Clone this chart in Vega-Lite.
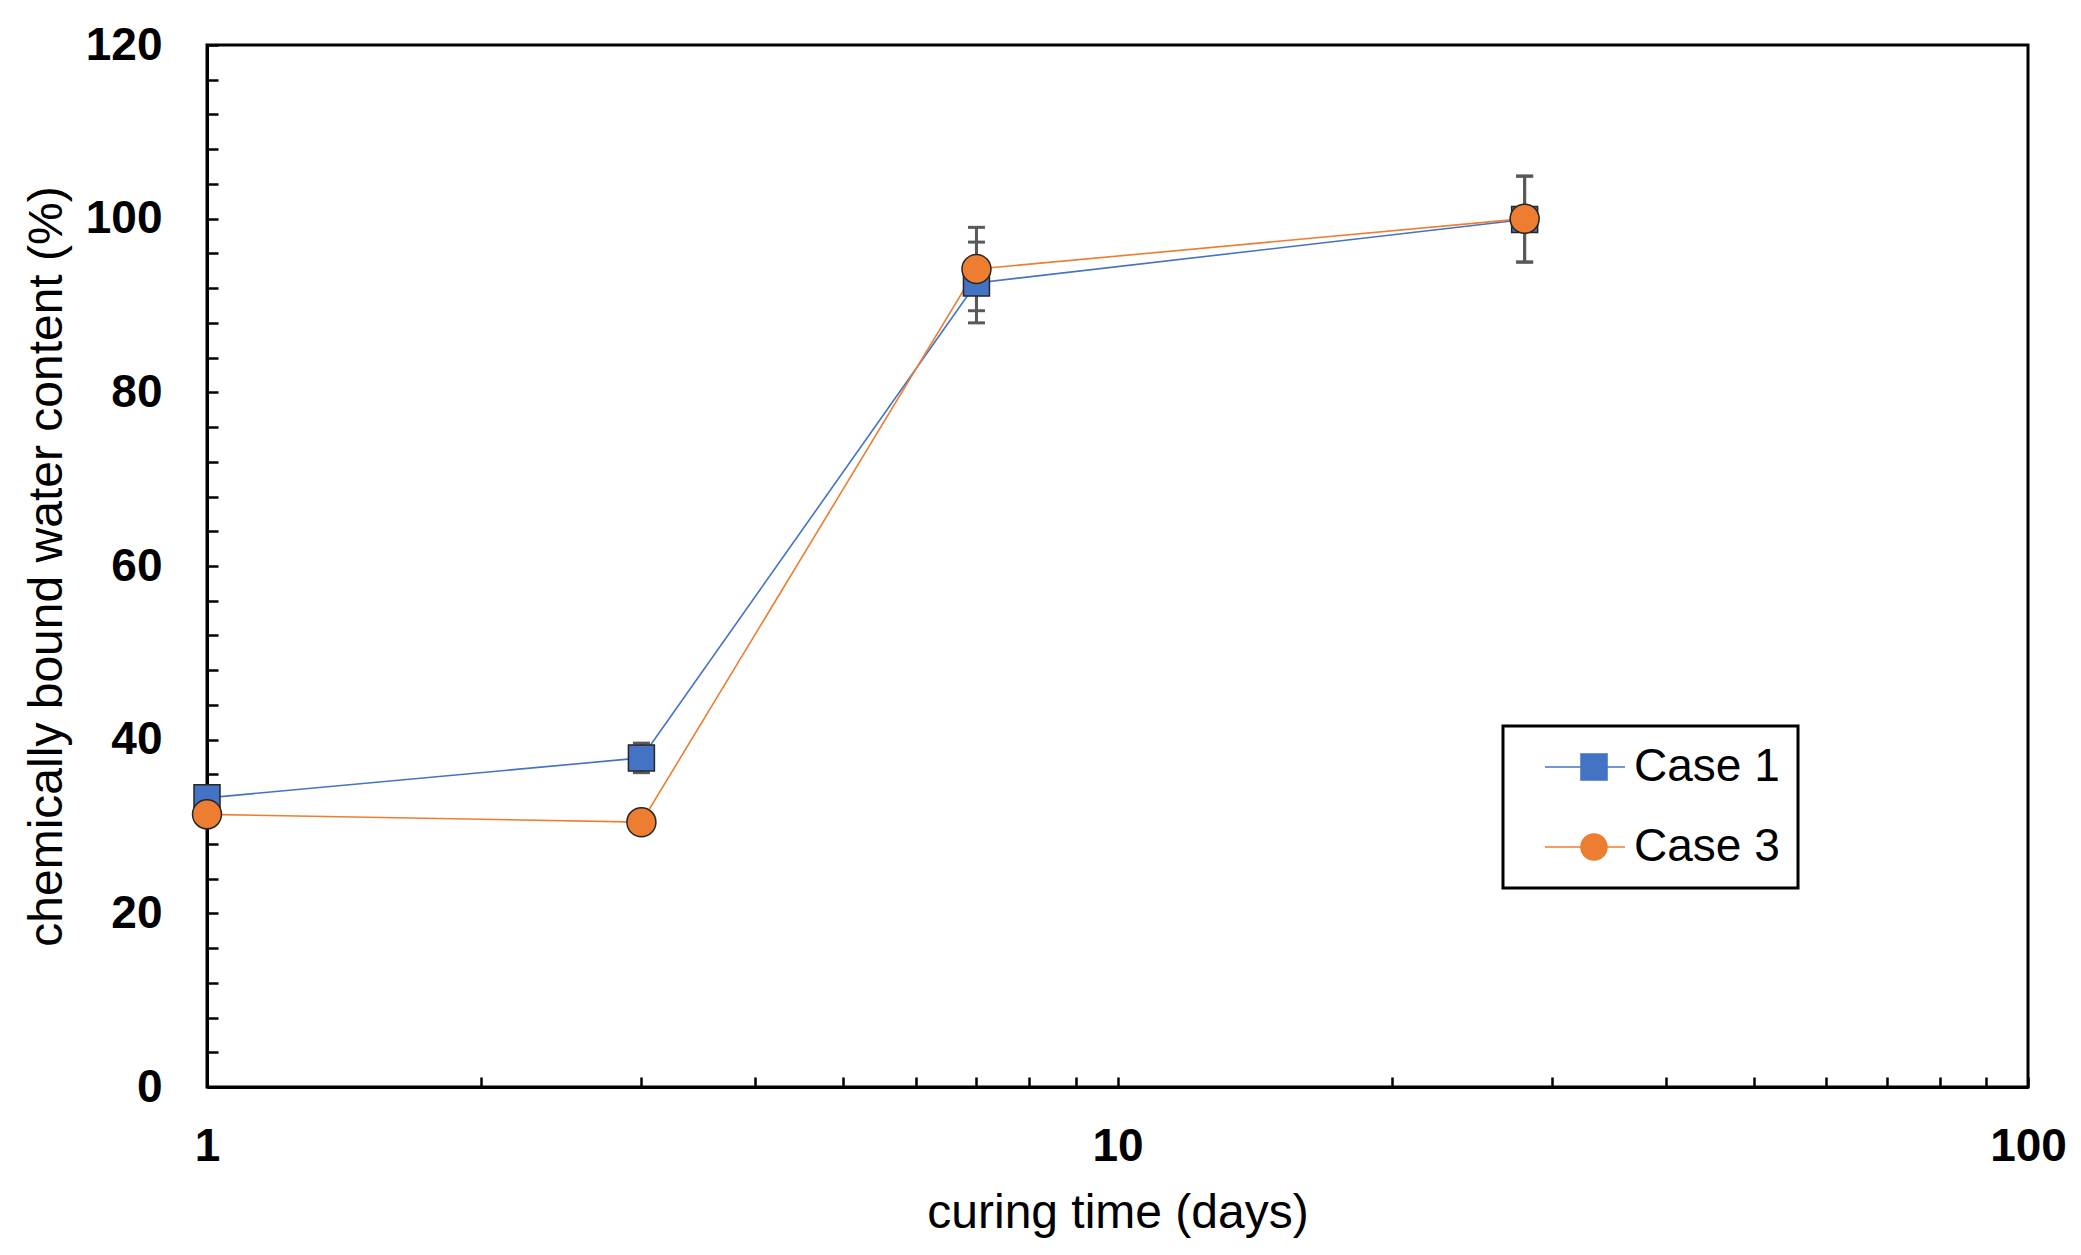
{
  "$schema": "https://vega.github.io/schema/vega-lite/v6.json",
  "width": 1821,
  "height": 1042,
  "autosize": {"type": "none"},
  "padding": {"left": 207, "top": 45, "right": 53, "bottom": 168},
  "background": "white",
  "config": {
    "font": "Liberation Sans",
    "view": {"stroke": "black", "strokeWidth": 3}
  },
  "data": {
    "values": [
      {"series": "Case 1", "days": 1, "value": 33.3, "lo": 32.2, "hi": 34.4},
      {"series": "Case 1", "days": 3, "value": 37.9, "lo": 36.2, "hi": 39.6},
      {"series": "Case 1", "days": 7, "value": 92.6, "lo": 88.0, "hi": 97.3},
      {"series": "Case 1", "days": 28, "value": 99.9, "lo": 95.0, "hi": 104.9},
      {"series": "Case 3", "days": 1, "value": 31.4, "lo": 30.6, "hi": 32.2},
      {"series": "Case 3", "days": 3, "value": 30.5, "lo": 29.3, "hi": 31.7},
      {"series": "Case 3", "days": 7, "value": 94.2, "lo": 89.4, "hi": 99.0},
      {"series": "Case 3", "days": 28, "value": 100.0, "lo": 95.0, "hi": 104.9}
    ]
  },
  "encoding": {
    "x": {
      "field": "days", "type": "quantitative",
      "scale": {"type": "log", "domain": [1, 100]},
      "axis": {
        "title": "curing time (days)",
        "values": [1, 2, 3, 4, 5, 6, 7, 8, 9, 10, 20, 30, 40, 50, 60, 70, 80, 90, 100],
        "tickCount": 200,
        "labelExpr": "indexof([1, 10, 100], datum.value) >= 0 ? format(datum.value, 'd') : ''",
        "grid": false,
        "domainColor": "black", "domainWidth": 3,
        "tickColor": "black", "tickWidth": 2.5, "tickSize": -10,
        "labelPadding": 47, "labelFontSize": 46, "labelFontWeight": "bold", "labelColor": "black",
        "labelFont": "Liberation Sans", "labelFlush": false, "labelOverlap": false,
        "titleFontSize": 48, "titleFontWeight": "normal", "titleColor": "black", "titleFont": "Liberation Sans",
        "titlePadding": 20
      }
    }
  },
  "layer": [
    {
      "mark": {"type": "line", "strokeWidth": 1.6},
      "encoding": {
        "y": {
          "field": "value", "type": "quantitative",
          "scale": {"domain": [0, 120]},
          "axis": {
            "title": "chemically bound water content (%)",
            "values": [0, 4, 8, 12, 16, 20, 24, 28, 32, 36, 40, 44, 48, 52, 56, 60, 64, 68, 72, 76, 80, 84, 88, 92, 96, 100, 104, 108, 112, 116, 120],
            "tickCount": 200,
            "labelExpr": "datum.value % 20 == 0 ? format(datum.value, 'd') : ''",
            "grid": false,
            "domainColor": "black", "domainWidth": 3,
            "tickColor": "black", "tickWidth": 2.5, "tickSize": -11,
            "labelPadding": 56, "labelFontSize": 46, "labelFontWeight": "bold", "labelColor": "black",
            "labelFont": "Liberation Sans", "labelFlush": false, "labelOverlap": false,
            "titleFontSize": 48, "titleFontWeight": "normal", "titleColor": "black", "titleFont": "Liberation Sans",
            "titlePadding": 14
          }
        },
        "color": {
          "field": "series", "type": "nominal",
          "scale": {"domain": ["Case 1", "Case 3"], "range": ["#4472C4", "#ED7D31"]},
          "legend": {
            "title": null,
            "orient": "none",
            "legendX": 1296,
            "legendY": 681,
            "padding": 18,
            "clipHeight": 46,
            "symbolType": "stroke",
            "symbolSize": 6400,
            "symbolStrokeWidth": 1.6,
            "symbolOffset": 23,
            "labelOffset": 8,
            "labelFontSize": 46,
            "labelFont": "Liberation Sans",
            "labelColor": "black",
            "rowPadding": 34,
            "strokeColor": "black",
            "encode": {"legend": {"update": {"stroke": {"value": "black"}, "strokeWidth": {"value": 3}}}}
          }
        }
      }
    },
    {
      "mark": {"type": "rule", "color": "#595959", "strokeWidth": 3},
      "encoding": {
        "y": {"field": "lo", "type": "quantitative"},
        "y2": {"field": "hi"}
      }
    },
    {
      "mark": {"type": "tick", "orient": "horizontal", "size": 17, "thickness": 3, "color": "#595959", "opacity": 1},
      "encoding": {"y": {"field": "lo", "type": "quantitative"}}
    },
    {
      "mark": {"type": "tick", "orient": "horizontal", "size": 17, "thickness": 3, "color": "#595959", "opacity": 1},
      "encoding": {"y": {"field": "hi", "type": "quantitative"}}
    },
    {
      "mark": {"type": "point", "filled": true, "opacity": 1, "stroke": "#262626", "strokeWidth": 1.5},
      "encoding": {
        "y": {"field": "value", "type": "quantitative"},
        "size": {"condition": {"test": "datum.series == 'Case 1'", "value": 676}, "value": 841},
        "shape": {
          "field": "series", "type": "nominal",
          "scale": {"range": ["square", "circle"]},
          "legend": {
            "title": null, "orient": "none", "legendX": 1296, "legendY": 681, "padding": 18, "clipHeight": 46,
            "symbolSize": 760, "symbolOffset": 50, "symbolStrokeColor": "#262626", "symbolStrokeWidth": 1.5,
            "symbolOpacity": 1, "labelExpr": "''", "labelOffset": 0, "labelFontSize": 46, "rowPadding": 34
          }
        },
        "fill": {
          "field": "series", "type": "nominal",
          "scale": {"range": ["#4472C4", "#ED7D31"]},
          "legend": {
            "title": null, "orient": "none", "legendX": 1296, "legendY": 681, "padding": 18, "clipHeight": 46,
            "symbolSize": 760, "symbolOffset": 50, "symbolStrokeColor": "#262626", "symbolStrokeWidth": 1.5,
            "symbolOpacity": 1, "labelExpr": "''", "labelOffset": 0, "labelFontSize": 46, "rowPadding": 34
          }
        }
      }
    }
  ]
}
